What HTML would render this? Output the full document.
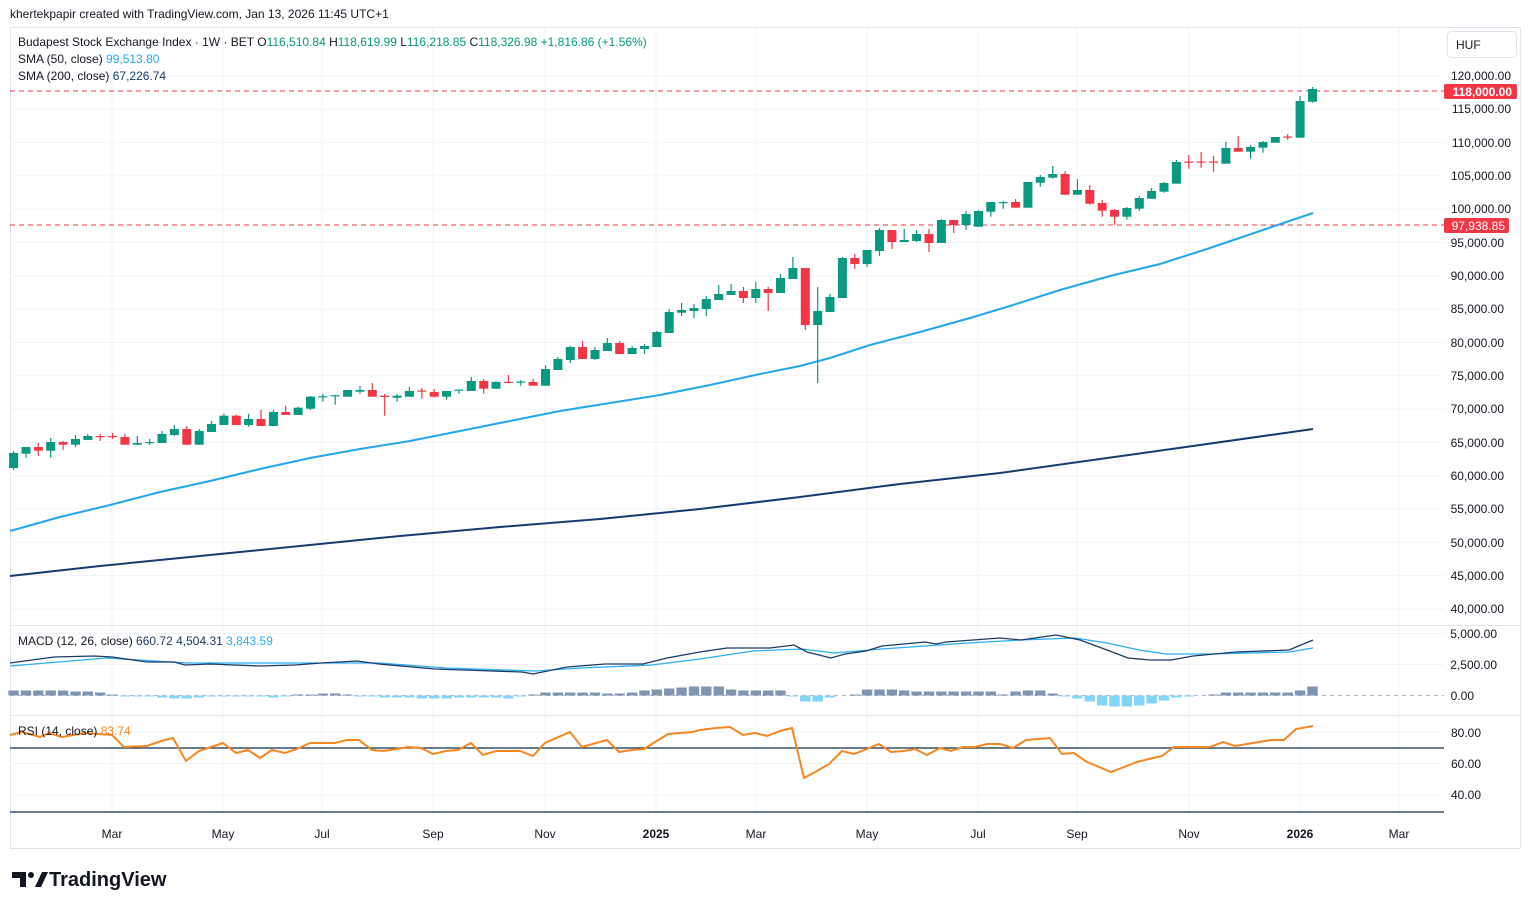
<!DOCTYPE html>
<html><head><meta charset="utf-8"><style>
html,body{margin:0;padding:0;background:#fff;}
body{width:1531px;height:909px;overflow:hidden;font-family:"Liberation Sans",sans-serif;}
svg{display:block}
text{font-family:"Liberation Sans",sans-serif;font-size:12px;fill:#131722}
.ax{text-anchor:end}
.tl{text-anchor:middle}
.gw{stroke:#089981;stroke-width:1.2;fill:none}
.rw{stroke:#f23645;stroke-width:1.2;fill:none}
.g{fill:#089981}.r{fill:#f23645}
.hp{fill:#7f95b0}.hn{fill:#81d4fa}
.grid{stroke:#f0f3fa;stroke-width:1}
</style></head><body>
<svg width="1531" height="909" viewBox="0 0 1531 909" xmlns="http://www.w3.org/2000/svg">
<text x="10" y="18">khertekpapir created with TradingView.com, Jan 13, 2026 11:45 UTC+1</text>
<rect x="10.5" y="27.5" width="1510" height="821" fill="#fff" stroke="#e0e3eb"/>
<!-- grid -->
<g class="grid">
<path d="M112 28V815M223 28V815M322 28V815M433 28V815M545 28V815M656 28V815M756 28V815M867 28V815M978 28V815M1077 28V815M1189 28V815M1300 28V815M1399 28V815"/>
<path d="M10 76H1444M10 109.3H1444M10 142.6H1444M10 175.9H1444M10 209.2H1444M10 242.5H1444M10 275.9H1444M10 309.2H1444M10 342.5H1444M10 375.8H1444M10 409.1H1444M10 442.4H1444M10 475.7H1444M10 509H1444M10 542.3H1444M10 575.6H1444M10 609H1444"/>
<path d="M10 633.5H1444M10 664.5H1444M10 732H1444M10 763.5H1444M10 795H1444"/>
</g>
<path d="M10 625.5H1521M10 715.5H1521" stroke="#e0e3eb"/>
<path d="M10 815.5H1444" stroke="#fff"/>
<!-- dashed lines -->
<path d="M10 91H1444" stroke="#f23645" stroke-dasharray="5,4"/>
<path d="M10 225H1444" stroke="#f23645" stroke-dasharray="5,4"/>
<!-- SMA lines -->
<polyline fill="none" stroke="#163b6e" stroke-width="2" points="10,576 100,566 200,556 300,546 400,536 500,527 600,519 700,509 800,497 900,484 1000,473 1100,459 1200,445 1313,429"/>
<polyline fill="none" stroke="#22a7f0" stroke-width="2" points="10,531 60,517 110,505 160,492 210,481 260,469 310,458 360,449 410,441 460,431 510,421 560,411 610,403 660,395 710,385 760,374 800,366 830,358 870,345 920,332 970,318 1010,306 1060,290 1110,276 1160,264 1210,248 1260,231 1313,213"/>
<!-- wicks -->
<path class="gw" d="M13.6 451V470M26 447V457.7M50.7 438V457.7M75.5 435V447M87.8 434V440M137.3 436V444.7M149.7 439V444.7M162 431V443M174.4 425V436M199.2 429V444.7M211.5 421V432M223.9 413.7V425M248.6 413.7V426.7M273.4 409.7V426M298.1 406.7V415M310.5 396V409.7M322.9 393.7V401.7M335.2 395.2V404.7M347.6 390V396.7M360 386V393.7M397.1 394V401.7M409.4 387V396.7M446.6 391V399.7M458.9 389.5V393.7M471.3 377V391M496 381V388.7M520.8 380V385.7M545.5 365.3V385.7M557.9 357V370M570.3 346V363M595 347V360M607.4 338V351M632.1 346V354M644.5 344V354M656.8 331V347M669.2 309V333M681.6 303V316M694 304V318M706.3 296V316M718.7 285V300M731.1 284V295M755.8 282V303M780.5 274V293M792.9 257V279M817.7 287V383M830 294V312M842.4 257V298M867.1 250V267M879.5 228V256M904.2 229V242M916.6 230V242M941.4 219V243M966.1 211V230M978.5 210V226.7M990.8 202V216.7M1003.2 201V208.7M1027.9 182V207.7M1040.3 175V186.7M1052.7 166V178.7M1077.4 179V194.7M1126.9 207V219.7M1139.3 196V210.7M1151.6 188V198.7M1164 182V192.7M1176.4 160V183.7M1225.9 142V163.7M1250.6 145V158.7M1263 141V152.7M1275.3 137V142.7M1300.1 96V137.7M1312.5 87V102.7"/>
<path class="rw" d="M38.3 443V455.7M63.1 441V450M100.2 434V441M112.6 433V439M124.9 434V444.7M186.8 426V444.7M236.3 414.7V425M261 409.7V426M285.7 405.7V415M372.3 383V396.7M384.7 394V415.7M421.8 388V398.7M434.2 389V397.7M483.7 379V393.7M508.4 375V382.8M533.1 379V385.7M582.6 341V359M619.7 341V354M743.4 287V303M768.2 287V311M805.3 268V330M854.8 254V269M892 230V249M929 229V252M953.7 220V233M1015.6 199V207.7M1065.1 171V194.7M1089.8 185V204.7M1102.2 200V216.7M1114.5 209V224.7M1188.8 155V168.7M1201.1 152V167.7M1213.5 156V171.7M1238.2 136V151.7M1287.7 134V139.7"/>
<!-- bodies -->
<g class="g">
<rect x="9.1" y="453" width="9" height="15"/><rect x="21.5" y="447" width="9" height="6.7"/><rect x="46.2" y="442" width="9" height="8.7"/><rect x="71" y="439" width="9" height="5.7"/><rect x="83.3" y="436" width="9" height="4"/><rect x="132.8" y="443" width="9" height="1.7"/><rect x="145.2" y="442" width="9" height="1.2"/><rect x="157.5" y="434" width="9" height="9"/><rect x="169.9" y="429" width="9" height="6"/><rect x="194.7" y="431" width="9" height="13.7"/><rect x="207" y="424" width="9" height="8"/><rect x="219.4" y="415.7" width="9" height="9.3"/><rect x="244.1" y="419" width="9" height="6"/><rect x="268.9" y="412" width="9" height="14"/><rect x="293.6" y="407.7" width="9" height="7.3"/><rect x="306" y="396.7" width="9" height="12"/><rect x="318.4" y="396.2" width="9" height="1.2"/><rect x="330.7" y="395.2" width="9" height="1.2"/><rect x="343.1" y="390" width="9" height="6.7"/><rect x="355.5" y="390" width="9" height="1.7"/><rect x="392.6" y="395.7" width="9" height="2"/><rect x="404.9" y="391" width="9" height="5.7"/><rect x="442.1" y="391" width="9" height="5.7"/><rect x="454.4" y="389.5" width="9" height="1.2"/><rect x="466.8" y="381" width="9" height="10"/><rect x="491.5" y="382" width="9" height="6.7"/><rect x="516.3" y="381.5" width="9" height="1.2"/><rect x="541" y="369" width="9" height="16.7"/><rect x="553.4" y="359" width="9" height="11"/><rect x="565.8" y="347" width="9" height="13"/><rect x="590.5" y="350" width="9" height="9"/><rect x="602.9" y="343" width="9" height="8"/><rect x="627.6" y="348" width="9" height="6"/><rect x="640" y="346" width="9" height="3"/><rect x="652.3" y="332" width="9" height="15"/><rect x="664.7" y="312" width="9" height="21"/><rect x="677.1" y="310" width="9" height="2.7"/><rect x="689.5" y="308" width="9" height="3"/><rect x="701.8" y="299" width="9" height="10"/><rect x="714.2" y="294" width="9" height="6"/><rect x="726.6" y="291" width="9" height="4"/><rect x="751.3" y="289" width="9" height="9"/><rect x="776" y="278" width="9" height="15"/><rect x="788.4" y="268" width="9" height="11"/><rect x="813.2" y="311" width="9" height="14"/><rect x="825.5" y="297" width="9" height="15"/><rect x="837.9" y="258" width="9" height="40"/><rect x="862.6" y="250" width="9" height="14"/><rect x="875" y="230" width="9" height="21"/><rect x="899.7" y="240" width="9" height="2"/><rect x="912.1" y="234" width="9" height="7"/><rect x="936.9" y="220" width="9" height="23"/><rect x="961.6" y="214" width="9" height="11"/><rect x="974" y="211" width="9" height="15.7"/><rect x="986.3" y="202" width="9" height="9.7"/><rect x="998.7" y="202" width="9" height="1.2"/><rect x="1023.4" y="182" width="9" height="25.7"/><rect x="1035.8" y="177" width="9" height="5.7"/><rect x="1048.2" y="174" width="9" height="3.7"/><rect x="1072.9" y="190" width="9" height="4.7"/><rect x="1122.4" y="208" width="9" height="8.7"/><rect x="1134.8" y="198" width="9" height="10.7"/><rect x="1147.1" y="191" width="9" height="7.7"/><rect x="1159.5" y="183" width="9" height="8.7"/><rect x="1171.9" y="162" width="9" height="21.7"/><rect x="1221.4" y="148" width="9" height="15.7"/><rect x="1246.1" y="147" width="9" height="4.7"/><rect x="1258.5" y="142" width="9" height="5.7"/><rect x="1270.8" y="137" width="9" height="5.7"/><rect x="1295.6" y="101" width="9" height="36.7"/><rect x="1308" y="89" width="9" height="12.7"/>
</g>
<g class="r">
<rect x="33.8" y="447" width="9" height="3.7"/><rect x="58.6" y="442" width="9" height="2.7"/><rect x="95.7" y="436" width="9" height="1.2"/><rect x="108.1" y="436" width="9" height="1.2"/><rect x="120.4" y="437" width="9" height="7.7"/><rect x="182.3" y="429" width="9" height="15.7"/><rect x="231.8" y="415.7" width="9" height="9.3"/><rect x="256.5" y="419" width="9" height="7"/><rect x="281.2" y="412" width="9" height="3"/><rect x="367.8" y="390" width="9" height="6.7"/><rect x="380.2" y="395.7" width="9" height="1.3"/><rect x="417.3" y="390.5" width="9" height="1.2"/><rect x="429.7" y="392" width="9" height="4.7"/><rect x="479.2" y="381" width="9" height="7.7"/><rect x="503.9" y="381.8" width="9" height="1.2"/><rect x="528.6" y="382" width="9" height="3.7"/><rect x="578.1" y="347" width="9" height="12"/><rect x="615.2" y="343" width="9" height="11"/><rect x="738.9" y="291" width="9" height="7"/><rect x="763.7" y="289" width="9" height="4"/><rect x="800.8" y="268" width="9" height="57"/><rect x="850.3" y="258" width="9" height="6"/><rect x="887.4" y="230" width="9" height="12"/><rect x="924.5" y="234" width="9" height="9"/><rect x="949.2" y="220" width="9" height="5"/><rect x="1011.1" y="202" width="9" height="5.7"/><rect x="1060.6" y="174" width="9" height="20.7"/><rect x="1085.3" y="190" width="9" height="13.7"/><rect x="1097.7" y="203" width="9" height="7.7"/><rect x="1110" y="210" width="9" height="6.7"/><rect x="1184.3" y="161.5" width="9" height="1.2"/><rect x="1196.6" y="161.5" width="9" height="1.2"/><rect x="1209" y="161.5" width="9" height="1.2"/><rect x="1233.7" y="148" width="9" height="3.7"/><rect x="1283.2" y="136.5" width="9" height="1.2"/>
</g>
<!-- MACD -->
<path d="M10 695.5H1444" stroke="#b2b5be" stroke-dasharray="4,4"/>
<g class="hp">
<rect x="8.4" y="690.5" width="10.4" height="5"/><rect x="20.8" y="690.5" width="10.4" height="5"/><rect x="33.1" y="690.5" width="10.4" height="5"/><rect x="45.5" y="690.5" width="10.4" height="5"/><rect x="57.9" y="690.5" width="10.4" height="5"/><rect x="70.3" y="691.5" width="10.4" height="4"/><rect x="82.6" y="691.5" width="10.4" height="4"/><rect x="95" y="692.5" width="10.4" height="3"/><rect x="107.4" y="694.5" width="10.4" height="1"/>
<rect x="292.9" y="694.5" width="10.4" height="1"/><rect x="305.3" y="694.5" width="10.4" height="1"/><rect x="317.7" y="693.5" width="10.4" height="2"/><rect x="330" y="693.5" width="10.4" height="2"/><rect x="342.4" y="694.5" width="10.4" height="1"/>
<rect x="527.9" y="694.5" width="10.4" height="1"/><rect x="540.3" y="692.5" width="10.4" height="3"/><rect x="552.7" y="692.5" width="10.4" height="3"/><rect x="565" y="692.5" width="10.4" height="3"/><rect x="577.4" y="692.5" width="10.4" height="3"/><rect x="589.8" y="692.5" width="10.4" height="3"/><rect x="602.2" y="693.5" width="10.4" height="2"/><rect x="614.5" y="693.5" width="10.4" height="2"/><rect x="626.9" y="692.5" width="10.4" height="3"/><rect x="639.3" y="690.5" width="10.4" height="5"/><rect x="651.6" y="689.5" width="10.4" height="6"/><rect x="664" y="688.5" width="10.4" height="7"/><rect x="676.4" y="687.5" width="10.4" height="8"/><rect x="688.8" y="686.5" width="10.4" height="9"/><rect x="701.1" y="686.5" width="10.4" height="9"/><rect x="713.5" y="686.5" width="10.4" height="9"/><rect x="725.9" y="689.5" width="10.4" height="6"/><rect x="738.2" y="690.5" width="10.4" height="5"/><rect x="750.6" y="690.5" width="10.4" height="5"/><rect x="763" y="690.5" width="10.4" height="5"/><rect x="775.3" y="690.5" width="10.4" height="5"/>
<rect x="849.6" y="694.5" width="10.4" height="1"/><rect x="861.9" y="689.5" width="10.4" height="6"/><rect x="874.3" y="689.5" width="10.4" height="6"/><rect x="886.7" y="689.5" width="10.4" height="6"/><rect x="899" y="690.5" width="10.4" height="5"/><rect x="911.4" y="691.5" width="10.4" height="4"/><rect x="923.8" y="691.5" width="10.4" height="4"/><rect x="936.2" y="691.5" width="10.4" height="4"/><rect x="948.5" y="691.5" width="10.4" height="4"/><rect x="960.9" y="691.5" width="10.4" height="4"/><rect x="973.3" y="691.5" width="10.4" height="4"/><rect x="985.6" y="691.5" width="10.4" height="4"/><rect x="998" y="694.5" width="10.4" height="1"/><rect x="1010.4" y="691.5" width="10.4" height="4"/><rect x="1022.7" y="690.5" width="10.4" height="5"/><rect x="1035.1" y="690.5" width="10.4" height="5"/><rect x="1047.5" y="693.5" width="10.4" height="2"/>
<rect x="1208.3" y="694.5" width="10.4" height="1"/><rect x="1220.7" y="692.5" width="10.4" height="3"/><rect x="1233" y="692.5" width="10.4" height="3"/><rect x="1245.4" y="692.5" width="10.4" height="3"/><rect x="1257.8" y="692.5" width="10.4" height="3"/><rect x="1270.1" y="692.5" width="10.4" height="3"/><rect x="1282.5" y="692.5" width="10.4" height="3"/><rect x="1294.9" y="690.5" width="10.4" height="5"/><rect x="1307.3" y="686.5" width="10.4" height="9"/>
</g>
<g class="hn">
<rect x="119.7" y="695.5" width="10.4" height="1"/><rect x="132.1" y="695.5" width="10.4" height="1"/><rect x="144.5" y="695.5" width="10.4" height="1"/><rect x="156.8" y="695.5" width="10.4" height="2"/><rect x="169.2" y="695.5" width="10.4" height="3"/><rect x="181.6" y="695.5" width="10.4" height="3"/><rect x="193.9" y="695.5" width="10.4" height="2"/><rect x="206.3" y="695.5" width="10.4" height="1"/><rect x="218.7" y="695.5" width="10.4" height="1"/><rect x="231.1" y="695.5" width="10.4" height="1"/><rect x="243.4" y="695.5" width="10.4" height="1"/><rect x="255.8" y="695.5" width="10.4" height="1"/><rect x="268.2" y="695.5" width="10.4" height="2"/><rect x="280.5" y="695.5" width="10.4" height="1"/>
<rect x="354.8" y="695.5" width="10.4" height="1"/><rect x="367.1" y="695.5" width="10.4" height="1"/><rect x="379.5" y="695.5" width="10.4" height="2"/><rect x="391.9" y="695.5" width="10.4" height="2"/><rect x="404.2" y="695.5" width="10.4" height="2"/><rect x="416.6" y="695.5" width="10.4" height="3"/><rect x="429" y="695.5" width="10.4" height="3"/><rect x="441.4" y="695.5" width="10.4" height="3"/><rect x="453.7" y="695.5" width="10.4" height="2"/><rect x="466.1" y="695.5" width="10.4" height="2"/><rect x="478.5" y="695.5" width="10.4" height="2"/><rect x="490.8" y="695.5" width="10.4" height="2"/><rect x="503.2" y="695.5" width="10.4" height="3"/><rect x="515.6" y="695.5" width="10.4" height="1"/>
<rect x="787.7" y="695.5" width="10.4" height="1"/><rect x="800.1" y="695.5" width="10.4" height="6"/><rect x="812.5" y="695.5" width="10.4" height="6"/><rect x="824.8" y="695.5" width="10.4" height="2"/>
<rect x="1059.9" y="695.5" width="10.4" height="1"/><rect x="1072.2" y="695.5" width="10.4" height="3"/><rect x="1084.6" y="695.5" width="10.4" height="6"/><rect x="1097" y="695.5" width="10.4" height="10"/><rect x="1109.3" y="695.5" width="10.4" height="11"/><rect x="1121.7" y="695.5" width="10.4" height="11"/><rect x="1134.1" y="695.5" width="10.4" height="10"/><rect x="1146.4" y="695.5" width="10.4" height="8"/><rect x="1158.8" y="695.5" width="10.4" height="5"/><rect x="1171.2" y="695.5" width="10.4" height="2"/><rect x="1183.6" y="695.5" width="10.4" height="1"/>
</g>
<polyline fill="none" stroke="#2aaef5" stroke-width="1.3" points="10,666 107,658 187,663 312,663 379,663 446,668 536,671 580,668 652,665 700,659 753,651 802,649 834,653 882,649 968,643 1021,640 1075,638 1107,643 1139,650 1166,654 1209,654 1289,652 1313,648"/>
<polyline fill="none" stroke="#1c3b63" stroke-width="1.3" points="10,663 54,657 94,656 112,657 147,662 174,662 185,665 210,664 259,666 295,665 321,663 357,661 379,664 435,669 464,670 522,672 533,674 567,667 605,664 643,664 667,658 700,652 727,648 770,648 794,645 807,652 831,658 845,654 866,651 882,646 925,642 936,644 946,642 1000,638 1021,640 1056,635 1080,640 1107,650 1128,658 1150,660 1171,660 1193,656 1236,652 1289,650 1313,640"/>
<!-- RSI -->
<path d="M10 748H1444M10 812H1444" stroke="#0f2f52" stroke-width="1.2"/>
<polyline fill="none" stroke="#f7861f" stroke-width="2" points="10,735 22,732 40,737 49,733 62,737 85,733 112,735 124,747 147,746 161,741 173,738 186,761 199,751 223,743 236,753 248,750 260,758 272,750 285,753 297,749 310,743 335,743 347,740 359,740 372,750 384,751 396,749 408,747 421,748 433,754 446,751 458,750 471,743 483,755 496,751 520,751 533,756 545,743 570,732 582,747 607,740 619,752 632,750 644,749 668,734 692,732 700,730 716,728 730,727 743,735 755,733 767,736 780,731 792,728 804,778 817,771 829,764 842,751 854,754 867,749 879,744 891,752 904,751 915,749 927,755 940,748 951,751 963,747 975,747 987,744 1000,744 1013,748 1026,740 1050,738 1062,754 1074,753 1087,762 1099,767 1111,772 1124,767 1137,762 1149,759 1162,756 1174,747 1210,747 1223,742 1235,746 1247,744 1271,740 1284,740 1296,729 1313,726"/>
<!-- legends -->
<text x="18" y="46">Budapest Stock Exchange Index · 1W · BET  O<tspan fill="#089981">116,510.84</tspan>  H<tspan fill="#089981">118,619.99</tspan>  L<tspan fill="#089981">116,218.85</tspan>  C<tspan fill="#089981">118,326.98</tspan>  <tspan fill="#089981">+1,816.86 (+1.56%)</tspan></text>
<text x="18" y="63">SMA (50, close)  <tspan fill="#22a7f0">99,513.80</tspan></text>
<text x="18" y="80">SMA (200, close)  <tspan fill="#163b6e">67,226.74</tspan></text>
<text x="18" y="645">MACD (12, 26, close)  <tspan fill="#1c3b63">660.72</tspan>  <tspan fill="#1c3b63">4,504.31</tspan>  <tspan fill="#2aaef5">3,843.59</tspan></text>
<text x="18" y="735">RSI (14, close)  <tspan fill="#f7861f">83.74</tspan></text>
<!-- price axis -->
<rect x="1447.5" y="31.5" width="69" height="26" rx="4" fill="#fff" stroke="#e0e3eb"/>
<text x="1456" y="49">HUF</text>
<g class="ax">
<text x="1511" y="80">120,000.00</text><text x="1511" y="113">115,000.00</text><text x="1511" y="147">110,000.00</text><text x="1511" y="180">105,000.00</text><text x="1511" y="213">100,000.00</text><text x="1504" y="247">95,000.00</text><text x="1504" y="280">90,000.00</text><text x="1504" y="313">85,000.00</text><text x="1504" y="347">80,000.00</text><text x="1504" y="380">75,000.00</text><text x="1504" y="413">70,000.00</text><text x="1504" y="447">65,000.00</text><text x="1504" y="480">60,000.00</text><text x="1504" y="513">55,000.00</text><text x="1504" y="547">50,000.00</text><text x="1504" y="580">45,000.00</text><text x="1504" y="613">40,000.00</text>
<text x="1497" y="638">5,000.00</text><text x="1497" y="669">2,500.00</text><text x="1474" y="700">0.00</text>
<text x="1481" y="737">80.00</text><text x="1481" y="768">60.00</text><text x="1481" y="799">40.00</text>
</g>
<rect x="1444" y="84" width="73" height="15" rx="2" fill="#f23645"/>
<text x="1512" y="96" class="ax" style="fill:#fff;font-weight:bold">118,000.00</text>
<rect x="1444" y="218" width="65" height="15" rx="2" fill="#f23645"/>
<text x="1505" y="230" class="ax" style="fill:#fff">97,938.85</text>
<!-- time axis -->
<g class="tl">
<text x="112" y="838">Mar</text><text x="223" y="838">May</text><text x="322" y="838">Jul</text><text x="433" y="838">Sep</text><text x="545" y="838">Nov</text><text x="656" y="838" style="font-weight:bold">2025</text><text x="756" y="838">Mar</text><text x="867" y="838">May</text><text x="978" y="838">Jul</text><text x="1077" y="838">Sep</text><text x="1189" y="838">Nov</text><text x="1300" y="838" style="font-weight:bold">2026</text><text x="1399" y="838">Mar</text>
</g>
<!-- logo -->
<path d="M12 872h14v15h-6v-9h-8z" fill="#131722"/>
<circle cx="31" cy="875" r="3" fill="#131722"/>
<path d="M35 887l7-15h6l-7 15z" fill="#131722"/>
<text x="49" y="886" style="font-size:20px;font-weight:bold">TradingView</text>
</svg>
</body></html>
